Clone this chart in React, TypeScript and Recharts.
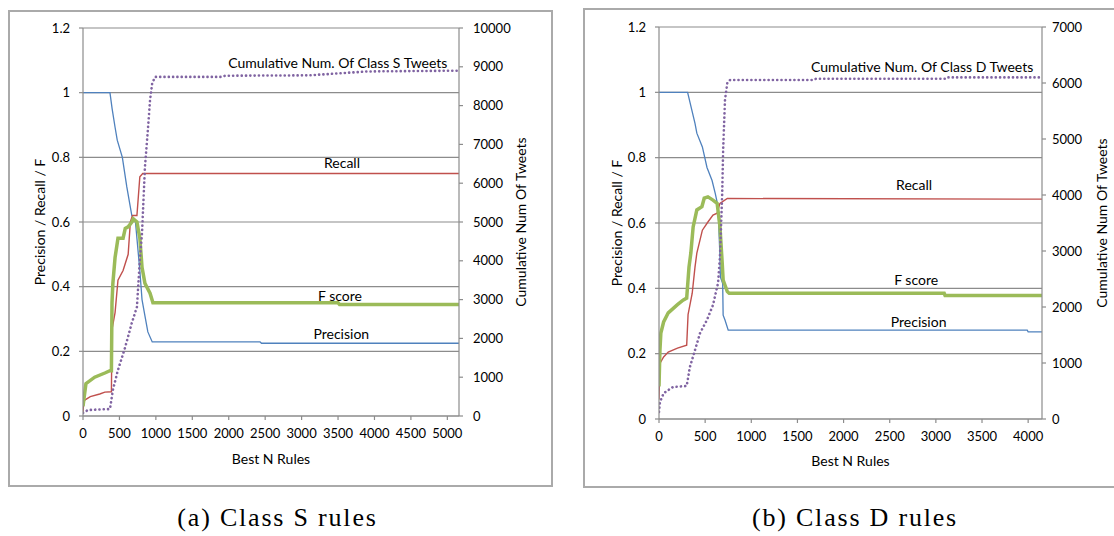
import React from 'react'
import { LineChart, Line, XAxis, YAxis, CartesianGrid, ReferenceDot } from 'recharts'

// Class S (left panel) - x = best N rules
const sPrecN = [0, 370, 400, 440, 470, 540, 600, 670, 720, 780, 810, 850, 890, 950, 2430, 2450, 5160]
const sPrec = [1, 1, 0.95, 0.893, 0.853, 0.8, 0.71, 0.62, 0.6, 0.45, 0.36, 0.31, 0.26, 0.229, 0.229, 0.225, 0.225]

const sRecN = [0, 10, 30, 100, 230, 300, 390, 395, 400, 440, 480, 550, 620, 650, 680, 740, 780, 820, 5160]
const sRec = [0.01, 0.045, 0.05, 0.06, 0.068, 0.074, 0.075, 0.2, 0.27, 0.32, 0.42, 0.45, 0.5, 0.6, 0.62, 0.62, 0.74, 0.75, 0.75]

const sFN = [0, 40, 160, 300, 370, 390, 398, 410, 440, 480, 550, 580, 620, 670, 690, 740, 780, 810, 850, 920, 960, 3500, 3520, 5160]
const sF = [0.03, 0.1, 0.12, 0.133, 0.14, 0.14, 0.35, 0.41, 0.49, 0.55, 0.55, 0.58, 0.585, 0.6, 0.61, 0.6, 0.55, 0.46, 0.41, 0.38, 0.35, 0.35, 0.345, 0.345]

const sCumN = [0, 70, 370, 410, 480, 580, 670, 740, 780, 810, 850, 890, 920, 950, 990, 1900, 1950, 3100, 3500, 3900, 5160]
const sCum = [80, 155, 180, 670, 1185, 1780, 2400, 2810, 4020, 4716, 6417, 7370, 8140, 8580, 8740, 8740, 8770, 8780, 8830, 8880, 8900]

// Class D (right panel)
const dPrecN = [0, 310, 390, 410, 470, 520, 575, 610, 640, 660, 665, 690, 695, 715, 750, 3990, 4000, 4150]
const dPrec = [1, 1, 0.905, 0.875, 0.833, 0.77, 0.73, 0.69, 0.65, 0.5, 0.435, 0.415, 0.318, 0.303, 0.272, 0.272, 0.267, 0.267]

const dRecN = [0, 10, 50, 100, 200, 300, 315, 360, 390, 410, 470, 530, 585, 630, 660, 740, 4150]
const dRec = [0.06, 0.17, 0.19, 0.205, 0.217, 0.226, 0.32, 0.385, 0.465, 0.508, 0.578, 0.603, 0.624, 0.63, 0.66, 0.675, 0.673]

const dFN = [0, 10, 20, 50, 100, 200, 260, 300, 325, 345, 370, 410, 465, 490, 530, 585, 630, 660, 685, 695, 740, 760, 3090, 3100, 4150]
const dF = [0.1, 0.21, 0.263, 0.297, 0.325, 0.35, 0.364, 0.37, 0.465, 0.508, 0.588, 0.64, 0.65, 0.676, 0.68, 0.67, 0.66, 0.59, 0.477, 0.425, 0.39, 0.385, 0.385, 0.378, 0.378]

const dCumN = [0, 10, 50, 150, 300, 335, 390, 445, 520, 585, 640, 660, 670, 685, 695, 715, 740, 770, 1670, 1700, 3100, 3120, 4150]
const dCum = [125, 300, 460, 570, 590, 930, 1230, 1535, 1770, 2035, 2430, 2890, 3320, 4036, 4804, 5697, 6000, 6054, 6054, 6075, 6075, 6100, 6100]

const leftTicks = [0, 0.2, 0.4, 0.6, 0.8, 1, 1.2]
const sXTicks = [0, 500, 1000, 1500, 2000, 2500, 3000, 3500, 4000, 4500, 5000]
const dXTicks = [0, 500, 1000, 1500, 2000, 2500, 3000, 3500, 4000]
const sCumTicks = [0, 1000, 2000, 3000, 4000, 5000, 6000, 7000, 8000, 9000, 10000]
const dCumTicks = [0, 1000, 2000, 3000, 4000, 5000, 6000, 7000]

const zip = (ns: number[], vs: number[]) => ns.map((n, i) => ({ n, v: vs[i] }))

const GRID = '#8c8c8c'
const FONT = 'Lato, "Open Sans", sans-serif'

const yTitle = (text: string, dx: number) => (props: any) => {
  const { x, y, height } = props.viewBox
  const cx = x + dx
  const cy = y + height / 2
  return (
    <text x={cx} y={cy} transform={`rotate(-90 ${cx} ${cy})`} textAnchor="middle" dominantBaseline="central" fontSize={14} fill="#000" fontFamily={FONT}>
      {text}
    </text>
  )
}

const xTitle = (text: string, dy: number) => (props: any) => {
  const { x, y, width } = props.viewBox
  return (
    <text x={x + width / 2} y={y + dy} textAnchor="middle" dominantBaseline="central" fontSize={14} fill="#000" fontFamily={FONT}>
      {text}
    </text>
  )
}

function Panel(p: any) {
  const tick = { fill: '#000', fontSize: 13, fontFamily: FONT }
  return (
    <div style={{ position: 'absolute', left: p.left, top: p.top, width: p.width, height: p.height }}>
      <div style={{ position: 'absolute', inset: 0, border: '2px solid #aaaaaa', boxSizing: 'border-box' }} />
      <LineChart width={p.width} height={p.height} margin={{ top: p.top2, right: 0, bottom: 0, left: 0 }} style={{ position: 'absolute', left: 0, top: 0 }}>
        <CartesianGrid yAxisId="l" horizontal vertical={false} stroke={GRID} strokeWidth={1.2} />
        <XAxis dataKey="n" type="number" domain={[0, p.xMax]} ticks={p.xTicks} allowDataOverflow height={p.xH}
          tickSize={4} tickMargin={9} tick={tick} stroke={GRID} strokeWidth={1.2} label={xTitle('Best N Rules', p.xTitleDy)} />
        <YAxis yAxisId="l" orientation="left" domain={[0, 1.2]} ticks={leftTicks} width={p.lW}
          tickSize={4} tickMargin={9} tick={tick} stroke={GRID} strokeWidth={1.2} label={yTitle('Precision / Recall / F', p.lTitleX)} />
        <YAxis yAxisId="r" orientation="right" domain={[0, p.rMax]} ticks={p.rTicks} width={p.rW}
          tickSize={4} tickMargin={p.rTickMargin} tick={tick} stroke={GRID} strokeWidth={1.2} label={yTitle('Cumulative Num Of Tweets', p.rTitleX)} />
        <Line yAxisId="l" data={p.prec} dataKey="v" type="linear" stroke="#4F81BD" strokeWidth={1.3} dot={false} isAnimationActive={false} />
        <Line yAxisId="l" data={p.rec} dataKey="v" type="linear" stroke="#C0504D" strokeWidth={1.4} dot={false} isAnimationActive={false} />
        <Line yAxisId="l" data={p.f} dataKey="v" type="linear" stroke="#9BBB59" strokeWidth={3.5} dot={false} isAnimationActive={false} />
        <Line yAxisId="r" data={p.cum} dataKey="v" type="linear" stroke="#8064A2" strokeWidth={2.6} strokeDasharray="0.1 4.2" strokeLinecap="round" dot={false} isAnimationActive={false} />
        {p.labels.map((l: any) => (
          <ReferenceDot key={l.text} yAxisId="l" x={l.x} y={l.y} r={0} ifOverflow="visible"
            label={{ value: l.text, position: 'center', fill: '#000', fontSize: 14, fontFamily: FONT }} />
        ))}
      </LineChart>
    </div>
  )
}

const captionStyle: React.CSSProperties = {
  position: 'absolute', top: 503, textAlign: 'center', fontFamily: '"Liberation Serif", serif',
  fontSize: 26, letterSpacing: 1.8, color: '#000',
}

export default function App() {
  return (
    <div style={{ position: 'absolute', left: 0, top: 0, width: 1114, height: 536, overflow: 'hidden', background: '#fff' }}>
      <Panel left={8} top={10} width={545} height={477} top2={18} lW={75} rW={94} xH={71}
        xMax={5160} xTicks={sXTicks} rMax={10000} rTicks={sCumTicks} rTickMargin={10}
        lTitleX={31} rTitleX={61} xTitleDy={42}
        prec={zip(sPrecN, sPrec)} rec={zip(sRecN, sRec)} f={zip(sFN, sF)} cum={zip(sCumN, sCum)}
        labels={[
          { text: 'Cumulative Num. Of Class S Tweets', x: 3497, y: 1.091 },
          { text: 'Recall', x: 3554, y: 0.782 },
          { text: 'F score', x: 3527, y: 0.371 },
          { text: 'Precision', x: 3545, y: 0.253 },
        ]} />
      <Panel left={583} top={8} width={545} height={480} top2={19} lW={76} rW={86} xH={69}
        xMax={4150} xTicks={dXTicks} rMax={7000} rTicks={dCumTicks} rTickMargin={6}
        lTitleX={33} rTitleX={59} xTitleDy={41}
        prec={zip(dPrecN, dPrec)} rec={zip(dRecN, dRec)} f={zip(dFN, dF)} cum={zip(dCumN, dCum)}
        labels={[
          { text: 'Cumulative Num. Of Class D Tweets', x: 2851, y: 1.077 },
          { text: 'Recall', x: 2764, y: 0.716 },
          { text: 'F score', x: 2786, y: 0.425 },
          { text: 'Precision', x: 2813, y: 0.297 },
        ]} />
      <div style={{ ...captionStyle, left: 0, width: 555 }}>(a) Class S rules</div>
      <div style={{ ...captionStyle, left: 600, width: 510 }}>(b) Class D rules</div>
    </div>
  )
}
